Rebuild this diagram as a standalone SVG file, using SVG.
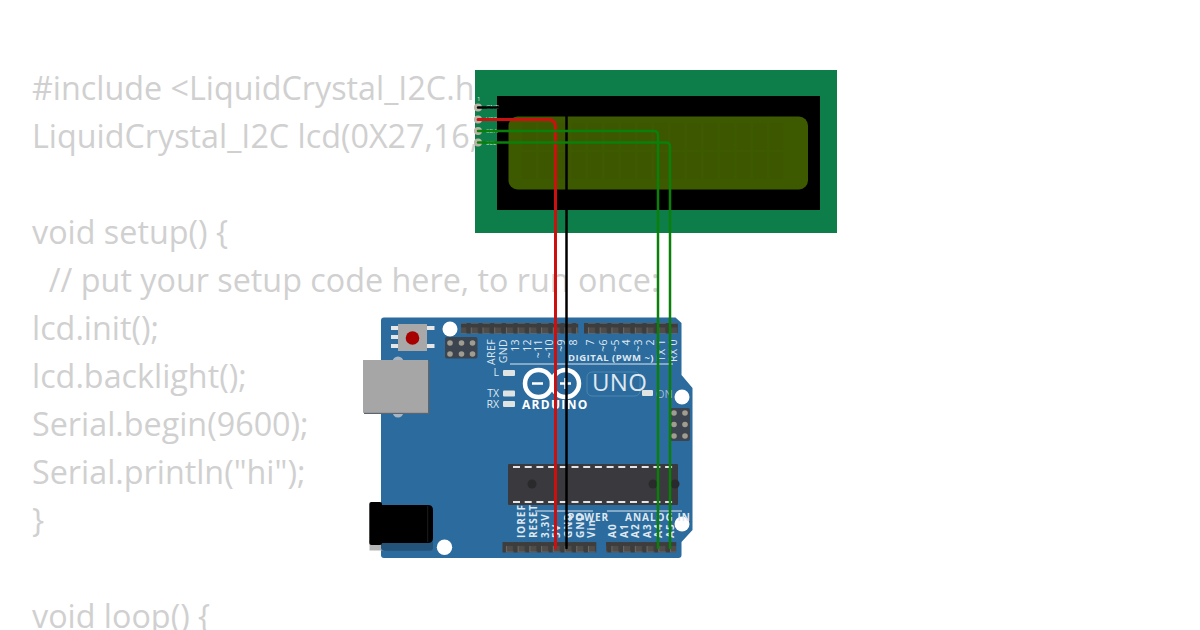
<svg xmlns="http://www.w3.org/2000/svg" width="1200" height="630" viewBox="0 0 1200 630">
<style>
.code{font-family:"Open Sans","Noto Sans",sans-serif;font-size:32.3px;fill:#d0d0d0;white-space:pre}
.s{font-family:"Open Sans","Noto Sans",sans-serif;fill:#dfe8f0}
.b{font-weight:700;letter-spacing:1px}
.w{fill:none;stroke-linecap:round}
.led{fill:#dfe3e2}
.hole{fill:#fff}
.lcdt{font-family:"Open Sans",sans-serif;font-size:6px;fill:#dfe8e0}
.cell{fill:#3c5700}
.leg{fill:#e6e6e6}
.dot{fill:#a09c90}
</style>
<defs>
<pattern id="pins" width="11.72" height="10.500" patternUnits="userSpaceOnUse">
<rect width="11.72" height="10.500" fill="#3d3d3d"/>
<rect x="3" y="2" width="6" height="5" fill="#504c49"/>
<path d="M2.500 2V8H9.500" fill="none" stroke="#6f6b67" stroke-width="1"/>
</pattern>
</defs>
<rect width="1200" height="630" fill="#fff"/>
<g id="code">
<text class="code" x="32" y="100">#include &lt;LiquidCrystal_I2C.h&gt;</text>
<text class="code" x="32" y="148">LiquidCrystal_I2C lcd(0X27,16,2);</text>
<text class="code" x="32" y="244">void setup() {</text>
<text class="code" x="32" y="292" xml:space="preserve">  // put your setup code here, to run once:</text>
<text class="code" x="32" y="340">lcd.init();</text>
<text class="code" x="32" y="388">lcd.backlight();</text>
<text class="code" x="32" y="436">Serial.begin(9600);</text>
<text class="code" x="32" y="484">Serial.println("hi");</text>
<text class="code" x="32" y="532">}</text>
<text class="code" x="32" y="628">void loop() {</text>
</g>
<g id="lcd">
<rect x="475" y="70" width="362" height="163" fill="#0d7e4a"/>
<rect x="497" y="96" width="323" height="114" fill="#000"/>
<rect x="508.500" y="116.500" width="299.500" height="73" rx="9" fill="#3e5a00"/>
<g class="cell">
<path d="M522 123h14v27h-14zM538.500 123h14v27h-14zM555 123h14v27h-14zM571.500 123h14v27h-14zM588 123h14v27h-14zM604.500 123h14v27h-14zM621 123h14v27h-14zM637.500 123h14v27h-14zM654 123h14v27h-14zM670.500 123h14v27h-14zM687 123h14v27h-14zM703.500 123h14v27h-14zM720 123h14v27h-14zM736.500 123h14v27h-14zM753 123h14v27h-14zM769.500 123h14v27h-14z"/>
<path d="M522 152h14v27h-14zM538.500 152h14v27h-14zM555 152h14v27h-14zM571.500 152h14v27h-14zM588 152h14v27h-14zM604.500 152h14v27h-14zM621 152h14v27h-14zM637.500 152h14v27h-14zM654 152h14v27h-14zM670.500 152h14v27h-14zM687 152h14v27h-14zM703.500 152h14v27h-14zM720 152h14v27h-14zM736.500 152h14v27h-14zM753 152h14v27h-14zM769.500 152h14v27h-14z"/>
</g>
<g fill="#b9b4a6">
<circle cx="478" cy="107.500" r="4"/>
<circle cx="478" cy="119.500" r="4"/>
<circle cx="478" cy="131" r="4"/>
<circle cx="478" cy="142.500" r="4"/>
</g>
<text class="lcdt" x="477" y="101">1</text>
<text class="lcdt" x="486" y="109">GND</text>
<text class="lcdt" x="486" y="121">VCC</text>
<text class="lcdt" x="486" y="133">SDA</text>
<text class="lcdt" x="486" y="145">SCL</text>
</g>
<g id="arduino">
<path d="M384 317.500H675.500L681.500 323V375L692.500 388V530L681.500 542V555Q681.500 558 678.500 558H384Q381 558 381 555V320.500Q381 317.500 384 317.500Z" fill="#2b6b9e"/>
<g id="reset">
<rect class="leg" x="391" y="326" width="8" height="4"/><rect class="leg" x="391" y="335" width="8" height="4"/><rect class="leg" x="391" y="344" width="8" height="4"/>
<rect class="leg" x="426" y="326" width="8.500" height="4"/><rect class="leg" x="426" y="344" width="8.500" height="4"/>
<rect x="398" y="324" width="29" height="27" fill="#a8a8a8"/>
<circle cx="412.500" cy="338" r="6.800" fill="#a80000"/>
</g>
<circle class="hole" cx="450" cy="329" r="7.500"/>
<circle class="hole" cx="682" cy="397" r="7.500"/>
<circle class="hole" cx="682" cy="524" r="7.500"/>
<circle class="hole" cx="444.500" cy="547.300" r="7.700"/>
<g id="icsp1">
<rect x="445" y="337" width="32.500" height="21.500" rx="2" fill="#3c4450"/>
<g class="dot"><circle cx="450" cy="343" r="2.800"/><circle cx="461.500" cy="343" r="2.800"/><circle cx="472.500" cy="343" r="2.800"/><circle cx="450" cy="354" r="2.800"/><circle cx="461.500" cy="354" r="2.800"/><circle cx="472.500" cy="354" r="2.800"/></g>
</g>
<g id="icsp2">
<rect x="670" y="408" width="20" height="33" rx="2" fill="#3c4450"/>
<g class="dot"><circle cx="674" cy="413" r="2.800"/><circle cx="685" cy="413" r="2.800"/><circle cx="674" cy="424.500" r="2.800"/><circle cx="685" cy="424.500" r="2.800"/><circle cx="674" cy="436" r="2.800"/><circle cx="685" cy="436" r="2.800"/></g>
</g>
<g id="usb">
<circle cx="398" cy="362" r="5.500" fill="#a8b4c0"/>
<circle cx="398" cy="412" r="5.500" fill="#a8b4c0"/>
<rect x="364" y="361" width="65.500" height="53" fill="#5c6670"/>
<rect x="363" y="360" width="65" height="52.800" fill="#a6a6a6"/>
</g>
<g id="jack">
<rect x="369.500" y="540" width="15" height="10.500" fill="#b5b5b5"/>
<rect x="381" y="538" width="52" height="12.700" rx="3" fill="#24537a"/>
<path d="M381 505H428Q433 505 433 510V538Q433 543 428 543H381Z" fill="#000"/>
<rect x="369.300" y="502" width="12.700" height="43" rx="2" fill="#000"/>
<path d="M427.700 506V542" stroke="#2a2a2a" stroke-width=".7"/>
</g>
<g id="headers">
<rect x="461" y="323" width="117.200" height="10.500" fill="url(#pins)"/>
<rect x="584" y="323" width="93.800" height="10.500" fill="url(#pins)"/>
<g transform="translate(0,-2)"><rect x="502.500" y="544" width="93.800" height="10.500" fill="url(#pins)"/></g>
<g transform="translate(0,-2)"><rect x="606" y="544" width="70.300" height="10.500" fill="url(#pins)"/></g>
</g>
<g id="leds">
<rect class="led" x="503" y="370" width="12" height="6" rx="1"/>
<rect class="led" x="503" y="390.500" width="12" height="6" rx="1"/>
<rect class="led" x="503" y="401" width="12" height="6" rx="1"/>
<rect class="led" x="642" y="390" width="11" height="6" rx="1"/>
</g>
<g id="chip">
<rect x="508" y="464" width="170" height="41" rx="1" fill="#3a3a3e"/>
<g stroke="#e4e4e4" stroke-width="2" stroke-dasharray="7 4.700">
<path d="M513 467H676M513 502H676"/>
</g>
<circle cx="532" cy="484" r="4.500" fill="#2a2a2c"/>
<circle cx="653" cy="484" r="4.500" fill="#2a2a2c"/>
<circle cx="675" cy="484" r="4.500" fill="#2a2a2c"/>
</g>
<g id="silk">
<g class="s" font-size="10.500" text-anchor="end" letter-spacing=".4">
<text transform="translate(495,339) rotate(-90)">AREF</text>
<text transform="translate(506.500,339) rotate(-90)">GND</text>
<text transform="translate(518.500,339) rotate(-90)">13</text>
<text transform="translate(530.500,339) rotate(-90)">12</text>
<text transform="translate(541.500,339) rotate(-90)">~11</text>
<text transform="translate(553,339) rotate(-90)">~10</text>
<text transform="translate(564.500,339) rotate(-90)">~9</text>
<text transform="translate(576.500,339) rotate(-90)">8</text>
<text transform="translate(594,339) rotate(-90)">7</text>
<text transform="translate(606.500,339) rotate(-90)">~6</text>
<text transform="translate(618.500,339) rotate(-90)">~5</text>
<text transform="translate(630,339) rotate(-90)">4</text>
<text transform="translate(641.500,339) rotate(-90)">~3</text>
<text transform="translate(653.500,339) rotate(-90)">2</text>
<text transform="translate(665,339) rotate(-90)">TX 1</text>
<text transform="translate(676.500,339) rotate(-90)">RX 0</text>
</g>
<text class="s" x="568" y="360.500" font-size="9.500" font-weight="700" letter-spacing=".5">DIGITAL (PWM ~)</text>
<path d="M510 364H673" stroke="#dfe8f0" stroke-width="1" fill="none"/>
<g class="s" font-size="10.500" text-anchor="end">
<text x="499" y="376">L</text><text x="499" y="397">TX</text><text x="499" y="407.500">RX</text>
</g>
<text class="s" x="656" y="398" font-size="11" style="fill:#9fbcd2">ON</text>
<g fill="none" stroke="#fff" stroke-width="4.500">
<circle cx="538.500" cy="383.500" r="13.500"/><circle cx="565.500" cy="383.500" r="13.500"/>
</g>
<path d="M532 383.500h11M560 383.500h11M565.500 378v11" stroke="#fff" stroke-width="2.500" fill="none"/>
<text class="s" x="522" y="409" font-size="12" font-weight="700" letter-spacing="1.300" style="fill:#fff">ARDUINO</text>
<rect x="587" y="372" width="53" height="24" rx="5" fill="none" stroke="#4f86ad" stroke-width="1"/>
<text class="s" x="592" y="391" font-size="24" letter-spacing=".3">UNO</text>
<g class="s b" font-size="10">
<text transform="translate(525.200,538) rotate(-90)">IOREF</text>
<text transform="translate(536.500,538) rotate(-90)">RESET</text>
<text transform="translate(548.500,538) rotate(-90)">3.3V</text>
<text transform="translate(560.200,538) rotate(-90)">5V</text>
<text transform="translate(571.500,538) rotate(-90)">GND</text>
<text transform="translate(583.500,538) rotate(-90)">GND</text>
<text transform="translate(595.200,538) rotate(-90)">Vin</text>
<text transform="translate(616.200,538) rotate(-90)">A0</text>
<text transform="translate(627.500,538) rotate(-90)">A1</text>
<text transform="translate(639,538) rotate(-90)">A2</text>
<text transform="translate(650.500,538) rotate(-90)">A3</text>
<text transform="translate(662,538) rotate(-90)">A4</text>
<text transform="translate(673.500,538) rotate(-90)">A5</text>
<text x="568" y="521" font-size="10">POWER</text>
<text x="625" y="521" font-size="10">ANALOG IN</text>
</g>
<path d="M535 511H593M607 511H682" stroke="#dfe8f0" stroke-width="1" fill="none"/>
</g>
</g>
<g id="connectors">
<path class="w" d="M478 119.500H548Q555.500 119.500 555.500 127V548" stroke="#cc1010" stroke-width="3"/>
<path class="w" d="M478 107.500H566.500V548" stroke="#000" stroke-width="2.500"/>
<path class="w" d="M478 131H654Q658 131 658 135V548" stroke="#0a800a" stroke-width="2.500"/>
<path class="w" d="M478 142.500H666Q670 142.500 670 147V548" stroke="#0a800a" stroke-width="2.500"/>
</g>
</svg>
